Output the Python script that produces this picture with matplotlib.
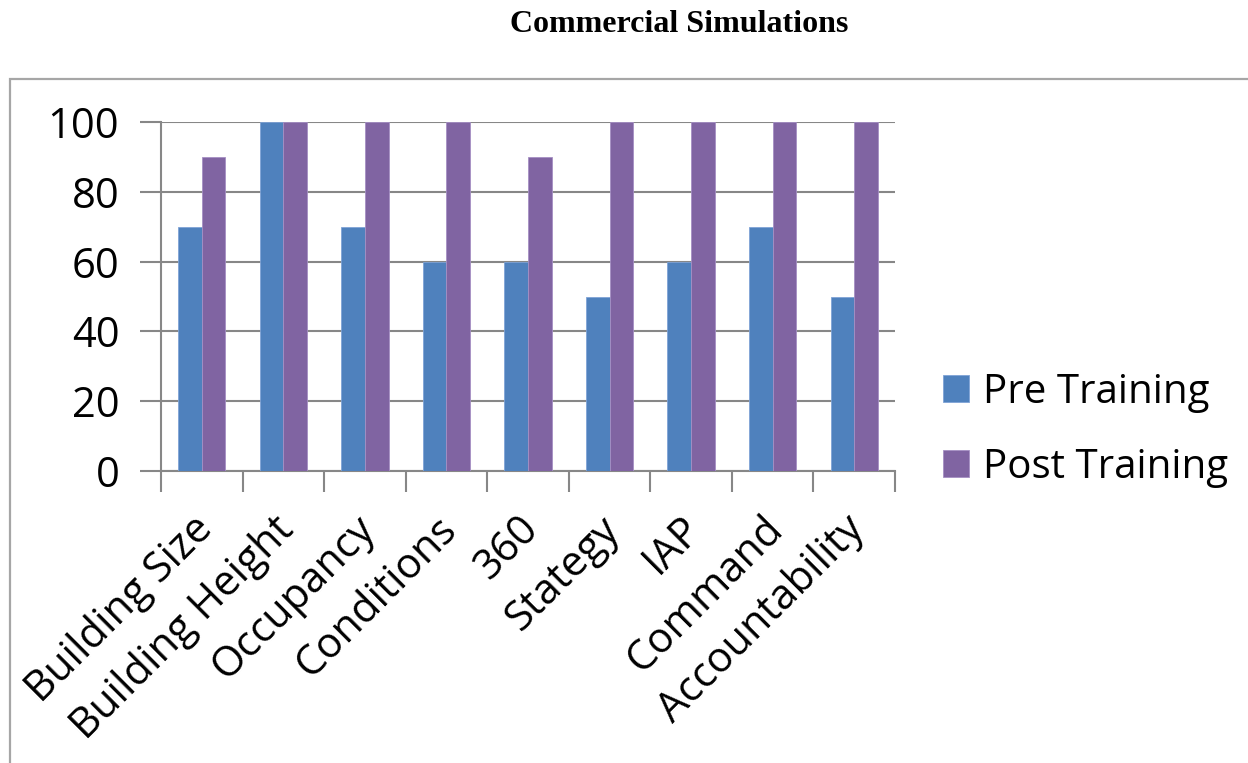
import matplotlib
matplotlib.use("Agg")
import matplotlib.pyplot as plt
import matplotlib.transforms as mtransforms
import numpy as np
from matplotlib.patches import Rectangle

categories = ["Building Size", "Building Height", "Occupancy", "Conditions", "360",
              "Stategy", "IAP", "Command", "Accountability"]
pre_training = [70, 100, 70, 60, 60, 50, 60, 70, 50]
post_training = [90, 100, 100, 100, 90, 100, 100, 100, 100]
yticks = [0, 20, 40, 60, 80, 100]

W, H = 1248, 763
fig = plt.figure(figsize=(W / 100, H / 100), dpi=100)
fig.patch.set_facecolor("white")

# outer border box
fig.add_artist(Rectangle((10 / W, -0.05), 1.1, 1 - 79 / H + 0.05, transform=fig.transFigure,
                         fill=False, edgecolor="#a6a6a6", linewidth=1.6))

fig.text(679 / W, 1 - 25 / H, "Commercial Simulations", ha="center", va="center",
         fontfamily="Liberation Serif", fontweight="bold", fontsize=23)

ax = fig.add_axes([161 / W, 1 - 471 / H, (895 - 161) / W, (471 - 122) / H])
x = np.arange(len(categories))
bw = 0.29
ax.bar(x - bw / 2, pre_training, width=bw, color="#4F81BD", label="Pre Training", zorder=3,
       edgecolor="#7fa3d6", linewidth=0.6)
ax.bar(x + bw / 2, post_training, width=bw, color="#8064A2", label="Post Training", zorder=3,
       edgecolor="#a58fc4", linewidth=0.6)

ax.set_xlim(-0.5, len(categories) - 0.5)
ax.set_ylim(0, 100)
ax.set_yticks(yticks)
ax.yaxis.grid(True, color="#878787", linewidth=1.5, zorder=0)
ax.set_axisbelow(True)
for s in ["top", "right"]:
    ax.spines[s].set_visible(False)
for s in ["left", "bottom"]:
    ax.spines[s].set_color("#878787")
    ax.spines[s].set_linewidth(1.5)

ax.tick_params(axis="y", length=15, width=1.5, color="#878787", labelsize=30, pad=15)
for lbl in ax.get_yticklabels():
    lbl.set_fontfamily("Open Sans")

ax.set_xticks(np.arange(len(categories) + 1) - 0.5)
ax.set_xticklabels([])
ax.tick_params(axis="x", which="major", length=15, width=1.5, color="#878787")

# rotated category labels
trans = mtransforms.blended_transform_factory(ax.transData, ax.transAxes)
off = mtransforms.ScaledTranslation(-11 / 100, -37 / 100, fig.dpi_scale_trans)
for xi, name in zip(x, categories):
    ax.text(xi, 0, name, transform=trans + off, rotation=45, rotation_mode="anchor",
            ha="right", va="top", fontfamily="Open Sans", fontsize=30, clip_on=False)

leg = ax.legend(loc="center left", bbox_to_anchor=(943 / W, 1 - 430 / H),
                bbox_transform=fig.transFigure, frameon=False, borderpad=0, borderaxespad=0,
                handlelength=0.65, handleheight=0.65, handletextpad=0.35, labelspacing=0.85,
                prop={"family": "Open Sans", "size": 29})

fig.savefig("out.png", dpi=100, facecolor="white")
